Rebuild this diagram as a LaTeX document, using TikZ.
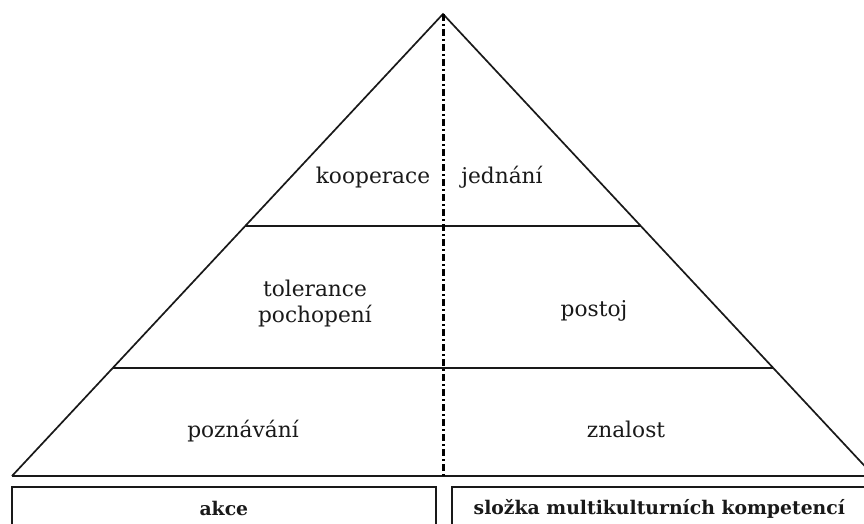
\documentclass[tikz,border=0pt]{standalone}
\usepackage{fontspec}
\setmainfont{DejaVu Serif}
\usetikzlibrary{calc}

\begin{document}
\begin{tikzpicture}[x=1pt,y=-1pt,
    edge/.style={draw=black!90,line width=1.7pt},
    level/.style={draw=black!90,line width=2.3pt},
    axis/.style={draw=black,line width=3pt,dash pattern=on 7pt off 3pt on 2pt off 3pt},
    lbl/.style={text=black!90,inner sep=0pt,anchor=base,font=\fontsize{21.7}{26}\selectfont},
    box/.style={draw=black!90,line width=1.7pt,anchor=north west,minimum height=44pt,inner sep=0pt,
        text=black!90,font=\fontsize{18.8}{22}\selectfont\bfseries}]
    \useasboundingbox (0,0) rectangle (864,524);
    \clip (0,0) rectangle (864,524);

    % vrchol a zakladna
    \coordinate (apex) at (443,14);
    \coordinate (left) at (12,476);
    \coordinate (right) at (874,476);
    \coordinate (mid) at (443,476);

    % pyramida
    \draw[edge] (left) -- (apex) -- (right);
    \draw[edge] (left) -- (right);
    \draw[level] ($(apex)!0.4589!(left)$) -- ($(apex)!0.4589!(right)$);
    \draw[level] ($(apex)!0.7662!(left)$) -- ($(apex)!0.7662!(right)$);
    \draw[axis] (apex) -- (mid);

    % popisky
    \node[lbl] (coop) at (373,183) {kooperace};
    \node[lbl] (act) at (502,183) {jednání};
    \node[lbl,anchor=center,align=center] (tol) at (315,304) {tolerance\\pochopení};
    \node[lbl] (att) at (594,316) {postoj};
    \node[lbl] (learn) at (243,437) {poznávání};
    \node[lbl] (know) at (626,437) {znalost};

    % ramecky dole
    \node[box,minimum width=424pt] (actbox) at (11,486) {akce};
    \node[box,minimum width=415pt] (compbox) at (451,486) {složka multikulturních kompetencí};
\end{tikzpicture}
\end{document}
